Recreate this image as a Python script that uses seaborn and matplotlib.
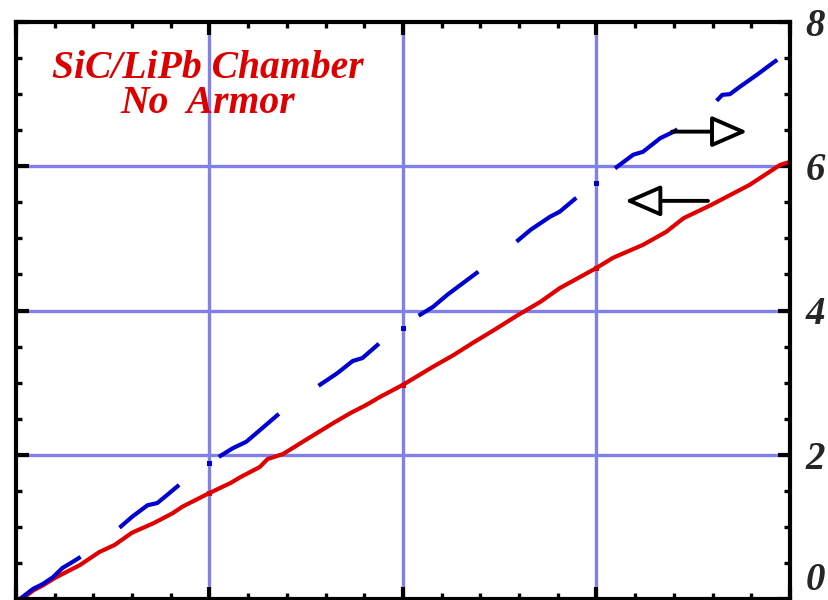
import numpy as np
import matplotlib
matplotlib.use("Agg")
import matplotlib.pyplot as plt
from matplotlib.ticker import MultipleLocator
import seaborn as sns

# values (right-axis units)
red_x = [0.03, 0.09, 0.14, 0.20, 0.25, 0.33, 0.43, 0.51, 0.60, 0.71, 0.81, 0.86,
         1.00, 1.11, 1.16, 1.26, 1.30, 1.38, 1.47, 1.555, 1.64, 1.73, 1.81, 1.88,
         2.00, 2.155, 2.26, 2.36, 2.465, 2.59, 2.71, 2.81, 3.00, 3.085, 3.24, 3.36,
         3.45, 3.59, 3.69, 3.79, 3.95, 4.00]
red_y = [0.00, 0.12, 0.19, 0.29, 0.36, 0.47, 0.65, 0.75, 0.92, 1.05, 1.19, 1.28,
         1.47, 1.61, 1.69, 1.83, 1.94, 2.01, 2.16, 2.30, 2.44, 2.58, 2.69, 2.80,
         2.97, 3.22, 3.38, 3.55, 3.72, 3.93, 4.12, 4.31, 4.59, 4.73, 4.91, 5.09,
         5.28, 5.46, 5.60, 5.74, 6.02, 6.06]

blue_x = [0.02, 0.088, 0.14, 0.19, 0.24, 0.29, 0.35, 0.54, 0.60, 0.68, 0.73, 0.78,
          0.86, 1.00, 1.054, 1.12, 1.19, 1.26, 1.36, 1.56, 1.66, 1.74, 1.79, 1.88,
          2.00, 2.07, 2.155, 2.23, 2.38, 2.58, 2.66, 2.76, 2.81, 2.89, 3.00, 3.085,
          3.19, 3.24, 3.33, 3.40, 3.60, 3.65, 3.69, 3.74, 3.83, 3.91, 4.00]
blue_y = [0.00, 0.14, 0.21, 0.30, 0.43, 0.51, 0.61, 1.00, 1.14, 1.30, 1.33, 1.44,
          1.62, 1.89, 1.98, 2.09, 2.18, 2.34, 2.57, 2.95, 3.13, 3.30, 3.34, 3.55,
          3.76, 3.91, 4.05, 4.22, 4.52, 4.94, 5.12, 5.30, 5.37, 5.55, 5.77, 5.95,
          6.16, 6.20, 6.39, 6.48, 6.85, 6.99, 7.00, 7.10, 7.27, 7.43, 7.60]

y_ticks = [0, 2, 4, 6, 8]
y_labels = ["0", "2", "4", "6", "8"]

sns.set_style("white")
plt.rcParams["lines.scale_dashes"] = False
serif = ["Liberation Serif", "DejaVu Serif"]

fig = plt.figure(figsize=(8.29, 6.0), dpi=100)
ax = fig.add_axes([16 / 829, 1 - 599 / 600, 774 / 829, 577 / 600])
ax.set_axisbelow(False)

grid_c = "#8080e8"
for gx in range(1, 4):
    ax.axvline(gx, color=grid_c, lw=2.4, zorder=1)
for gy in (2, 4, 6):
    ax.axhline(gy, color=grid_c, lw=2.4, zorder=1)

def int_marks(xs):
    return [i for i, v in enumerate(xs) if abs(v - round(v)) < 1e-9 and v > 0]

sns.lineplot(x=red_x, y=red_y, ax=ax, color="#e00000", lw=3.0, sort=False,
             marker="s", markersize=3.6, markeredgewidth=0,
             markevery=int_marks(red_x), legend=False, zorder=3)
sns.lineplot(x=blue_x, y=blue_y, ax=ax, color="#0000d0", lw=3.0, sort=False,
             linestyle=(0, (53.5, 35)), marker="s", markersize=3.6,
             markeredgewidth=0, markevery=int_marks(blue_x), legend=False,
             zorder=3)

ax.set_xlim(0, 4)
ax.set_ylim(0, 8)
ax.xaxis.set_major_locator(MultipleLocator(1))
ax.xaxis.set_minor_locator(MultipleLocator(0.2))
ax.yaxis.set_minor_locator(MultipleLocator(0.5))
ax.set_yticks(y_ticks)
ax.set_yticklabels(y_labels)
ax.tick_params(which="both", direction="in", top=True, right=True,
               left=True, bottom=True, labelbottom=False, labelleft=False,
               labelright=True, color="black")
ax.tick_params(which="major", length=9, width=3, pad=11)
ax.tick_params(which="minor", length=4.5, width=2.4)
for lab in ax.get_yticklabels():
    lab.set_fontfamily(serif)
    lab.set_fontweight("bold")
    lab.set_fontstyle("italic")
    lab.set_fontsize(28)
ax.yaxis.get_major_ticks()[0].label2.set_va("bottom")

for s in ax.spines.values():
    s.set_linewidth(3)
    s.set_color("black")
    s.set_zorder(5)

txt = dict(color="#dd0000", fontsize=28.5, fontweight="bold", fontstyle="italic",
           family=serif, ha="center", va="baseline", zorder=4)
ax.text(0.99, 7.226, "SiC/LiPb Chamber", **txt)
ax.text(0.99, 6.74, "No  Armor", **txt)

arrow = dict(arrowstyle="-|>,head_length=1.1,head_width=0.48", mutation_scale=20,
             fc="white", ec="black", lw=2.8, shrinkA=0, shrinkB=0)
ax.annotate("", xy=(3.78, 6.48), xytext=(3.39, 6.48), arrowprops=arrow, zorder=4)
ax.annotate("", xy=(3.147, 5.52), xytext=(3.576, 5.52), arrowprops=arrow, zorder=4)

fig.savefig("out.png", dpi=100)
